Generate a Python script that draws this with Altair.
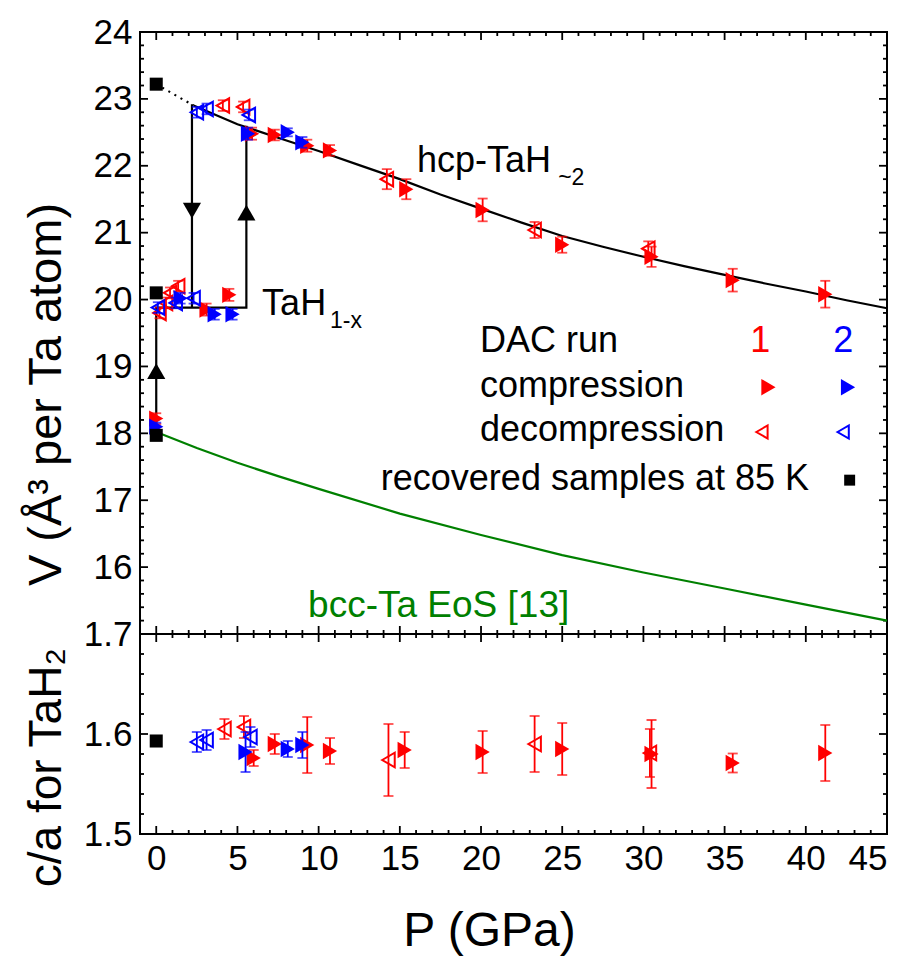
import altair as alt
import pandas as pd

# ---------------- data ----------------
# Volume per Ta atom, top panel
r1c_P = [0.0, 3.1, 4.5, 5.9, 7.3, 9.3, 10.7, 15.4, 20.1, 25.0, 30.5, 35.5, 41.2]
r1c_V = [18.22, 19.85, 20.07, 22.48, 22.46, 22.30, 22.23, 21.65, 21.34, 20.82, 20.64, 20.29, 20.08]
r1c_E = [0.08, 0.09, 0.09, 0.09, 0.08, 0.09, 0.08, 0.15, 0.17, 0.12, 0.15, 0.17, 0.20]

r1d_P = [0.2, 0.6, 0.85, 1.35, 4.1, 5.35, 14.2, 23.3, 30.3]
r1d_V = [19.80, 19.95, 20.10, 20.20, 22.90, 22.88, 21.80, 21.04, 20.76]
r1d_E = [0.08, 0.08, 0.08, 0.08, 0.08, 0.08, 0.15, 0.12, 0.11]

r2c_P = [0.0, 1.5, 3.6, 4.7, 5.65, 8.1, 9.0]
r2c_V = [18.10, 20.02, 19.78, 19.78, 22.48, 22.50, 22.35]
r2c_E = [0.06, 0.08, 0.08, 0.08, 0.09, 0.06, 0.08]

r2d_P = [0.1, 1.2, 2.3, 2.5, 3.1, 5.7]
r2d_V = [19.88, 19.95, 20.02, 22.80, 22.85, 22.76]
r2d_E = [0.08, 0.08, 0.08, 0.08, 0.08, 0.08]

rec_P = [0.0, 0.0, 0.0]
rec_V = [23.22, 20.10, 17.97]

# c/a ratio, bottom panel
r1c_ca_P = [6.0, 7.3, 9.3, 10.7, 15.3, 20.1, 25.0, 30.5, 35.5, 41.2]
r1c_ca = [1.576, 1.590, 1.589, 1.583, 1.584, 1.582, 1.585, 1.580, 1.571, 1.581]
r1c_ca_E = [0.008, 0.010, 0.028, 0.013, 0.018, 0.021, 0.026, 0.034, 0.0095, 0.028]

r1d_ca_P = [4.2, 5.4, 14.3, 23.3, 30.4]
r1d_ca = [1.605, 1.607, 1.574, 1.590, 1.581]
r1d_ca_E = [0.010, 0.011, 0.036, 0.028, 0.024]

r2c_ca_P = [5.5, 8.1, 9.0]
r2c_ca = [1.582, 1.585, 1.589]
r2c_ca_E = [0.020, 0.008, 0.013]

r2d_ca_P = [2.5, 3.1, 5.8]
r2d_ca = [1.592, 1.594, 1.597]
r2d_ca_E = [0.010, 0.010, 0.010]

rec_ca_P = [0.0]
rec_ca = [1.593]

# curves
hcp_P = [2.3, 5, 7.5, 10, 12.5, 15, 17.5, 20, 22.5, 25, 27.5, 30, 32.5, 35, 37.5, 40, 42.5, 45]
hcp_V = [22.90, 22.62, 22.42, 22.22, 22.01, 21.80, 21.57, 21.36, 21.15, 20.95, 20.79, 20.64, 20.50, 20.37, 20.24, 20.12, 19.99, 19.87]
hcp_ext_P = [0.0, 2.3]
hcp_ext_V = [23.22, 22.90]
bcc_P = [0, 2.5, 5, 7.5, 10, 15, 20, 25, 30, 35, 40, 45]
bcc_V = [18.02, 17.78, 17.56, 17.36, 17.17, 16.80, 16.48, 16.18, 15.92, 15.68, 15.44, 15.20]

# hysteresis path (black lines) and arrows
path_up_P = [0.0, 0.0, 5.55, 5.55]
path_up_V = [17.97, 19.88, 19.88, 22.60]
path_dn_P = [2.2, 2.2]
path_dn_V = [22.92, 19.88]
arrow_up_P = [0.0, 5.55]
arrow_up_V = [18.93, 21.30]
arrow_dn_P = [2.2]
arrow_dn_V = [21.33]

# axis ticks
x_major = [0, 5, 10, 15, 20, 25, 30, 35, 40, 45]
x_minor = [p for p in range(0, 46) if p % 5 != 0]
yt_major = [15, 16, 17, 18, 19, 20, 21, 22, 23, 24]
yt_minor = [round(15 + 0.2 * i, 2) for i in range(46) if i % 5 != 0]
yb_major = [1.5, 1.6, 1.7]
yb_minor = [round(1.5 + 0.02 * i, 3) for i in range(11) if i % 5 != 0]

# ---------------- styling ----------------
FONT = "Liberation Sans"
RED, BLUE, GREEN = "#ff0000", "#0000ff", "#008000"
W, H1, H2 = 747, 602, 200
MAJ, MIN = 8, 4
LBL, TXT, SUB = 35, 36, 23

xs = alt.Scale(domain=[-1, 45], nice=False, zero=False)
ys_top = alt.Scale(domain=[15, 24], nice=False, zero=False)
ys_bot = alt.Scale(domain=[1.5, 1.7], nice=False, zero=False)
col = alt.Scale(domain=["1", "2"], range=[RED, BLUE])

common = dict(grid=False, domain=False, ticks=False, labelFont=FONT, titleFont=FONT,
              labelColor="black", titleColor="black", titleFontWeight="normal")
x_axis_bot = alt.Axis(values=x_major, title="P (GPa)", labelFontSize=LBL, titleFontSize=48,
                      labelPadding=7, titleX=349, titleY=111, titleBaseline="alphabetic", **common)
y_axis_top = alt.Axis(values=yt_major[1:], title="V (Å³ per Ta atom)", labelFontSize=LBL,
                      titleFontSize=47, labelPadding=8, titleX=-80, titleY=362,
                      titleBaseline="alphabetic", **common)
y_axis_bot = alt.Axis(values=yb_major, format=".1f", title="c/a for TaH₂", labelFontSize=LBL,
                      titleFontSize=46, labelPadding=8, titleX=-80, titleY=133,
                      titleBaseline="alphabetic", **common)


def sdf(P, V, E, run):
    return pd.DataFrame({"P": P, "V": V, "lo": [v - e for v, e in zip(V, E)],
                         "hi": [v + e for v, e in zip(V, E)], "run": run})


def series_layers(df, shape, filled, X, Y):
    base = alt.Chart(df)
    c = alt.Color("run:N", scale=col, legend=None)
    bar = base.mark_rule(strokeWidth=1.8).encode(x=X("P"), y=Y("lo"), y2="hi", color=c)
    cap_lo = base.mark_tick(orient="horizontal", size=10, thickness=1.8).encode(
        x=X("P"), y=Y("lo"), color=c)
    cap_hi = base.mark_tick(orient="horizontal", size=10, thickness=1.8).encode(
        x=X("P"), y=Y("hi"), color=c)
    if filled:
        pt = base.mark_point(shape=shape, filled=True, size=270, opacity=1).encode(
            x=X("P"), y=Y("V"), color=c)
    else:
        pt = base.mark_point(shape=shape, filled=False, size=210, strokeWidth=2, opacity=1).encode(
            x=X("P"), y=Y("V"), color=c)
    return [bar, cap_lo, cap_hi, pt]


def tick_layers(X, Y, xmaj, xmin, ymaj, ymin, h):
    layers = []
    for vals, ln in ((xmaj, MAJ), (xmin, MIN)):
        d = pd.DataFrame({"v": vals})
        layers.append(alt.Chart(d).mark_rule(color="black", strokeWidth=1.8).encode(
            x=X("v"), y=alt.value(0), y2=alt.value(ln)))
        layers.append(alt.Chart(d).mark_rule(color="black", strokeWidth=1.8).encode(
            x=X("v"), y=alt.value(h), y2=alt.value(h - ln)))
    for vals, ln in ((ymaj, MAJ), (ymin, MIN)):
        d = pd.DataFrame({"v": vals})
        layers.append(alt.Chart(d).mark_rule(color="black", strokeWidth=1.8).encode(
            y=Y("v"), x=alt.value(0), x2=alt.value(ln)))
        layers.append(alt.Chart(d).mark_rule(color="black", strokeWidth=1.8).encode(
            y=Y("v"), x=alt.value(W), x2=alt.value(W - ln)))
    return layers


# ---------------- top panel ----------------
XT = lambda f: alt.X(f, type="quantitative", scale=xs, axis=None)
YT = lambda f: alt.Y(f, type="quantitative", scale=ys_top, axis=y_axis_top)

top_layers = []
top_layers += tick_layers(XT, YT, x_major, x_minor, yt_major, yt_minor, H1)


def curve(P, V, color, dash=None):
    kw = {"strokeDash": dash} if dash else {}
    return alt.Chart(pd.DataFrame({"P": P, "V": V, "i": list(range(len(P)))})).mark_line(
        color=color, strokeWidth=2.2, **kw).encode(x=XT("P"), y=YT("V"), order="i:Q")


top_layers.append(curve(bcc_P, bcc_V, GREEN))
top_layers.append(curve(hcp_P, hcp_V, "black"))
top_layers.append(curve(hcp_ext_P, hcp_ext_V, "black", [2, 5]))
top_layers.append(curve(path_up_P, path_up_V, "black"))
top_layers.append(curve(path_dn_P, path_dn_V, "black"))
top_layers.append(alt.Chart(pd.DataFrame({"P": arrow_up_P, "V": arrow_up_V})).mark_point(
    shape="triangle-up", filled=True, color="black", size=330, opacity=1).encode(x=XT("P"), y=YT("V")))
top_layers.append(alt.Chart(pd.DataFrame({"P": arrow_dn_P, "V": arrow_dn_V})).mark_point(
    shape="triangle-down", filled=True, color="black", size=330, opacity=1).encode(x=XT("P"), y=YT("V")))

top_layers += series_layers(sdf(r1c_P, r1c_V, r1c_E, "1"), "triangle-right", True, XT, YT)
top_layers += series_layers(sdf(r1d_P, r1d_V, r1d_E, "1"), "triangle-left", False, XT, YT)
top_layers += series_layers(sdf(r2c_P, r2c_V, r2c_E, "2"), "triangle-right", True, XT, YT)
top_layers += series_layers(sdf(r2d_P, r2d_V, r2d_E, "2"), "triangle-left", False, XT, YT)
top_layers.append(alt.Chart(pd.DataFrame({"P": rec_P, "V": rec_V})).mark_point(
    shape="square", filled=True, color="black", size=170, opacity=1).encode(x=XT("P"), y=YT("V")))

# annotations (text in data coordinates)
ann = pd.DataFrame({
    "P": [16.06, 24.75, 6.52, 10.7, 9.35],
    "V": [21.91, 21.72, 19.77, 19.57, 15.26],
    "t": ["hcp-TaH", "~2", "TaH", "1-x", "bcc-Ta EoS [13]"],
    "s": [TXT, SUB, TXT, SUB, 37],
    "c": ["black", "black", "black", "black", GREEN],
})
for _, r in ann.iterrows():
    top_layers.append(alt.Chart(pd.DataFrame([r])).mark_text(
        font=FONT, fontSize=int(r["s"]), align="left", baseline="alphabetic", color=r["c"]).encode(
        x=XT("P"), y=YT("V"), text="t:N"))

# legend (built from text + symbol marks)
leg_text = pd.DataFrame({
    "P": [19.94, 19.94, 19.94, 40.2],
    "V": [19.22, 18.55, 17.88, 17.16],
    "t": ["DAC run", "compression", "decompression", "recovered samples at 85 K"],
    "a": ["left", "left", "left", "right"],
})
for _, r in leg_text.iterrows():
    top_layers.append(alt.Chart(pd.DataFrame([r])).mark_text(
        font=FONT, fontSize=TXT, align=r["a"], baseline="alphabetic", color="black").encode(
        x=XT("P"), y=YT("V"), text="t:N"))
leg_runs = pd.DataFrame({"P": [37.2, 42.3], "V": [19.22, 19.22], "t": ["1", "2"], "run": ["1", "2"]})
top_layers.append(alt.Chart(leg_runs).mark_text(font=FONT, fontSize=TXT, align="center",
                                                baseline="alphabetic").encode(
    x=XT("P"), y=YT("V"), text="t:N", color=alt.Color("run:N", scale=col, legend=None)))
leg_comp = pd.DataFrame({"P": [37.7, 42.6], "V": [18.69, 18.69], "run": ["1", "2"]})
top_layers.append(alt.Chart(leg_comp).mark_point(shape="triangle-right", filled=True, size=270,
                                                 opacity=1).encode(
    x=XT("P"), y=YT("V"), color=alt.Color("run:N", scale=col, legend=None)))
leg_dec = pd.DataFrame({"P": [37.3, 42.3], "V": [18.02, 18.02], "run": ["1", "2"]})
top_layers.append(alt.Chart(leg_dec).mark_point(shape="triangle-left", filled=False, size=170,
                                                strokeWidth=2, opacity=1).encode(
    x=XT("P"), y=YT("V"), color=alt.Color("run:N", scale=col, legend=None)))
leg_rec = pd.DataFrame({"P": [42.7], "V": [17.30]})
top_layers.append(alt.Chart(leg_rec).mark_point(shape="square", filled=True, color="black",
                                                size=120, opacity=1).encode(x=XT("P"), y=YT("V")))

top = alt.layer(*top_layers).properties(width=W, height=H1)

# ---------------- bottom panel ----------------
XB = lambda f: alt.X(f, type="quantitative", scale=xs, axis=x_axis_bot)
YB = lambda f: alt.Y(f, type="quantitative", scale=ys_bot, axis=y_axis_bot)

bot_layers = []
bot_layers += tick_layers(XB, YB, x_major, x_minor, yb_major, yb_minor, H2)
bot_layers += series_layers(sdf(r1c_ca_P, r1c_ca, r1c_ca_E, "1"), "triangle-right", True, XB, YB)
bot_layers += series_layers(sdf(r1d_ca_P, r1d_ca, r1d_ca_E, "1"), "triangle-left", False, XB, YB)
bot_layers += series_layers(sdf(r2c_ca_P, r2c_ca, r2c_ca_E, "2"), "triangle-right", True, XB, YB)
bot_layers += series_layers(sdf(r2d_ca_P, r2d_ca, r2d_ca_E, "2"), "triangle-left", False, XB, YB)
bot_layers.append(alt.Chart(pd.DataFrame({"P": rec_ca_P, "V": rec_ca})).mark_point(
    shape="square", filled=True, color="black", size=170, opacity=1).encode(x=XB("P"), y=YB("V")))

bottom = alt.layer(*bot_layers).properties(width=W, height=H2)

chart = alt.vconcat(top, bottom, spacing=0, bounds="flush").properties(
    padding={"left": 21, "top": 14, "right": 5, "bottom": 5},
    background="white",
).configure_view(stroke="black", strokeWidth=2).configure_axis(
    labelFont=FONT, titleFont=FONT, labelColor="black", titleColor="black",
    titleFontWeight="normal", grid=False, domain=False, ticks=False
)

chart.save("out.html", embed_options={"renderer": "svg", "actions": False})
